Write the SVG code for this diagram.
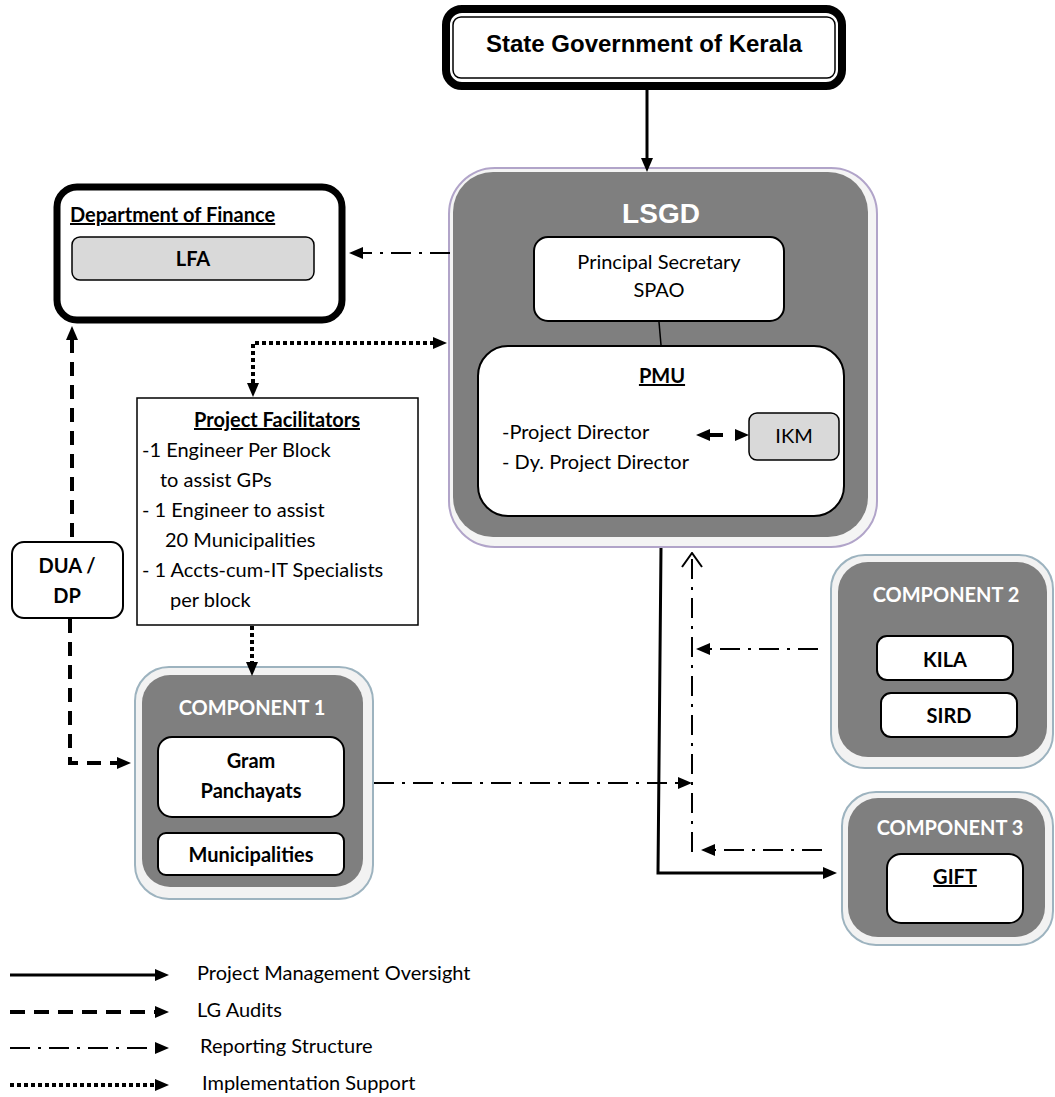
<svg xmlns="http://www.w3.org/2000/svg" width="1055" height="1097" viewBox="0 0 1055 1097">
<style>
.t{font-family:Lato,"Liberation Sans",sans-serif;font-size:20px;fill:#000}
.b{font-weight:bold}
.w{fill:#fff}
.m{text-anchor:middle}
.u{text-decoration:underline}
.box{fill:#fff;stroke:#000;stroke-width:2}
.lbox{fill:#d9d9d9;stroke:#000;stroke-width:1.5}
.gray{fill:#7f7f7f}
.rim{fill:#f2f2f2;stroke:#9db3bf;stroke-width:2}
.solid{fill:none;stroke:#000;stroke-width:3}
.dash{fill:none;stroke:#000;stroke-width:4;stroke-dasharray:14 9}
.dd{fill:none;stroke:#000;stroke-width:2;stroke-dasharray:20 8 3 8}
.dot{fill:none;stroke:#000;stroke-width:4;stroke-dasharray:4 3}
</style>
<defs>
<marker id="ah" viewBox="0 0 14 12" refX="1" refY="6" markerWidth="14" markerHeight="12" markerUnits="userSpaceOnUse" orient="auto-start-reverse"><path d="M0,0 L14,6 L0,12 z" fill="#000"/></marker>
<marker id="open" viewBox="0 0 16 22" refX="15" refY="11" markerWidth="16" markerHeight="22" markerUnits="userSpaceOnUse" orient="auto"><path d="M1,1 L15,11 L1,21" fill="none" stroke="#000" stroke-width="2"/></marker>
</defs>
<rect width="1055" height="1097" fill="#fff"/>

<g id="state">
<rect x="446" y="9" width="396" height="77" rx="16" fill="#fff" stroke="#000" stroke-width="8"/>
<rect x="453" y="17" width="382" height="61" rx="8" fill="none" stroke="#000" stroke-width="1.5"/>
<text x="644" y="52" text-anchor="middle" font-family="'Liberation Sans',Arial,sans-serif" font-weight="bold" font-size="24">State Government of Kerala</text>
</g>

<g id="lsgd">
<rect x="449" y="168" width="428" height="379" rx="46" fill="#f4f4f4" stroke="#b1a4c9" stroke-width="2"/>
<rect class="gray" x="453" y="172" width="415" height="365" rx="40"/>
<text x="661" y="223" text-anchor="middle" font-family="'Liberation Sans',Arial,sans-serif" font-weight="bold" font-size="28" fill="#fff">LSGD</text>
</g>

<g id="spao">
<rect class="box" x="534" y="237" width="250" height="84" rx="14"/>
<text class="t m" x="659" y="269">Principal Secretary</text>
<text class="t m" x="659" y="297">SPAO</text>
</g>

<g id="pmu">
<rect class="box" x="478" y="346" width="366" height="170" rx="30"/>
<text class="t b m u" x="662" y="383">PMU</text>
<text class="t" x="502" y="439">-Project Director</text>
<text class="t" x="502" y="469">- Dy. Project Director</text>
</g>

<g id="ikm">
<rect class="lbox" x="749" y="413" width="90" height="47" rx="8"/>
<text class="t m" x="794" y="443">IKM</text>
</g>

<g id="finance">
<rect x="57" y="187" width="285" height="133" rx="20" fill="#fff" stroke="#000" stroke-width="7"/>
<text class="t b u" x="70" y="222">Department of Finance</text>
</g>

<g id="lfa">
<rect class="lbox" x="72" y="237" width="242" height="43" rx="8"/>
<text class="t b m" x="193" y="266">LFA</text>
</g>

<g id="facilitators">
<rect x="137" y="398" width="281" height="227" fill="#fff" stroke="#000" stroke-width="1.5"/>
<text class="t b m u" x="277" y="427">Project Facilitators</text>
<text class="t" x="142" y="457">-1 Engineer Per Block</text>
<text class="t" x="160" y="487">to assist GPs</text>
<text class="t" x="142" y="517">- 1 Engineer to assist</text>
<text class="t" x="165" y="547">20 Municipalities</text>
<text class="t" x="142" y="577">- 1 Accts-cum-IT Specialists</text>
<text class="t" x="170" y="607">per block</text>
</g>

<g id="dua">
<rect class="box" x="12" y="542" width="111" height="76" rx="12"/>
<text class="t b m" x="67" y="573">DUA /</text>
<text class="t b m" x="67" y="603">DP</text>
</g>

<g id="component1">
<rect class="rim" x="135" y="667" width="238" height="232" rx="34"/>
<rect class="gray" x="142" y="675" width="221" height="212" rx="28"/>
<text class="t b m w" x="252" y="715">COMPONENT 1</text>
<rect class="box" x="158" y="737" width="186" height="80" rx="14"/>
<text class="t b m" x="251" y="768">Gram</text>
<text class="t b m" x="251" y="798">Panchayats</text>
<rect class="box" x="158" y="833" width="186" height="42" rx="8"/>
<text class="t b m" x="251" y="862">Municipalities</text>
</g>

<g id="component2">
<rect class="rim" x="831" y="555" width="222" height="213" rx="34"/>
<rect class="gray" x="838" y="562" width="209" height="195" rx="30"/>
<text class="t b m w" x="946" y="602">COMPONENT 2</text>
<rect class="box" x="877" y="636" width="136" height="44" rx="10"/>
<text class="t b m" x="945" y="667">KILA</text>
<rect class="box" x="881" y="693" width="136" height="44" rx="10"/>
<text class="t b m" x="949" y="723">SIRD</text>
</g>

<g id="component3">
<rect class="rim" x="842" y="792" width="211" height="153" rx="34"/>
<rect class="gray" x="848" y="798" width="197" height="139" rx="30"/>
<text class="t b m w" x="950" y="835">COMPONENT 3</text>
<rect class="box" x="887" y="854" width="136" height="69" rx="14"/>
<text class="t b m u" x="955" y="884">GIFT</text>
</g>

<g id="connectors">
<path class="solid" d="M647,90 L647,159" marker-end="url(#ah)"/>
<path class="dd" d="M450,253 L362,253" marker-end="url(#ah)"/>
<path class="dot" d="M434,343 L253,343 L253,384" marker-start="url(#ah)" marker-end="url(#ah)"/>
<path class="dot" d="M252,626 L252,663" marker-end="url(#ah)"/>
<path class="dash" d="M72,339 L72,541" marker-start="url(#ah)"/>
<path class="dash" d="M70,619 L70,763 L118,763" marker-end="url(#ah)"/>
<path class="dd" d="M374,783 L679,783" marker-end="url(#ah)"/>
<path class="dd" d="M818,649 L709,649" marker-end="url(#ah)"/>
<path class="dd" d="M822,850 L714,850" marker-end="url(#ah)"/>
<path class="dd" d="M692,852 L692,553" marker-end="url(#open)"/>
<path class="solid" d="M661,548 L658,873 L824,873" marker-end="url(#ah)"/>
<path fill="none" stroke="#000" stroke-width="4" stroke-dasharray="14 40" d="M709,435 L736,435" marker-start="url(#ah)" marker-end="url(#ah)"/>
<path fill="none" stroke="#000" stroke-width="1.5" d="M659,322 L661,345"/>
</g>

<g id="legend">
<path class="solid" d="M10,975 L156,975" marker-end="url(#ah)"/>
<path class="dash" d="M10,1012 L156,1012" style="stroke-dasharray:15 9" marker-end="url(#ah)"/>
<path class="dd" d="M10,1048 L156,1048" marker-end="url(#ah)"/>
<path class="dot" d="M10,1085 L156,1085" marker-end="url(#ah)"/>
<text class="t" x="197" y="980">Project Management Oversight</text>
<text class="t" x="197" y="1017">LG Audits</text>
<text class="t" x="200" y="1053">Reporting Structure</text>
<text class="t" x="202" y="1090">Implementation Support</text>
</g>
</svg>
